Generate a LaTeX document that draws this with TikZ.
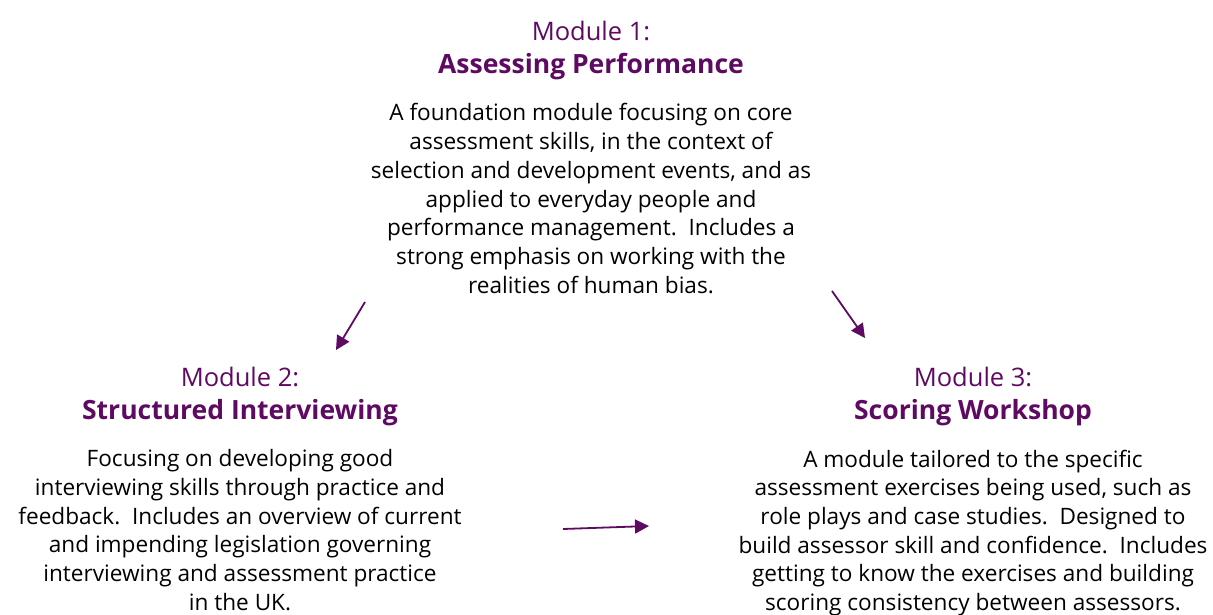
\documentclass[tikz,border=0pt]{standalone}
\usepackage{fontspec}
\setmainfont{Open Sans}
\usetikzlibrary{arrows.meta}
\definecolor{modpurple}{HTML}{5E0A63}
\tikzset{
  titleblock/.style={align=center, inner sep=0pt, anchor=north, text=modpurple, font={\fontsize{25.5}{33.4}\selectfont}},
  bodyblock/.style={align=center, inner sep=0pt, anchor=north, text=black, font={\fontsize{22.6}{28.7}\selectfont}},
  flowarrow/.style={draw=modpurple, line width=1.8pt, -{Triangle[length=14pt,width=14pt]}}
}
\newcommand{\modtitle}[1]{{\fontsize{26.5}{33.4}\selectfont\bfseries #1}}
\begin{document}
\begin{tikzpicture}[x=1pt,y=-1pt]
\useasboundingbox (0,0) rectangle (1213,614);
\node[titleblock] (t1) at (591,20.5) {Module 1:\\\modtitle{Assessing Performance}};
\node[bodyblock] (b1) at (591,103.5) {A foundation module focusing on core\\assessment skills, in the context of\\selection and development events, and as\\applied to everyday people and\\performance management.\ \ Includes a\\strong emphasis on working with the\\realities of human bias.};
\node[titleblock] (t2) at (240,367) {Module 2:\\\modtitle{Structured Interviewing}};
\node[bodyblock] (b2) at (240,449.5) {Focusing on developing good\\interviewing skills through practice and\\feedback.\ \ Includes an overview of current\\and impending legislation governing\\interviewing and assessment practice\\in the UK.};
\node[titleblock] (t3) at (973,367) {Module 3:\\\modtitle{Scoring Workshop}};
\node[bodyblock] (b3) at (973,449.5) {A module tailored to the specific\\assessment exercises being used, such as\\role plays and case studies.\ \ Designed to\\build assessor skill and confidence.\ \ Includes\\getting to know the exercises and building\\scoring consistency between assessors.};
\coordinate (a1s) at (365,302);
\coordinate (a1e) at (336,350);
\coordinate (a2s) at (832,291);
\coordinate (a2e) at (865,338);
\coordinate (a3s) at (563,529);
\coordinate (a3e) at (649,526);
\draw[flowarrow] (a1s) -- (a1e);
\draw[flowarrow] (a2s) -- (a2e);
\draw[flowarrow] (a3s) -- (a3e);
\end{tikzpicture}
\end{document}
